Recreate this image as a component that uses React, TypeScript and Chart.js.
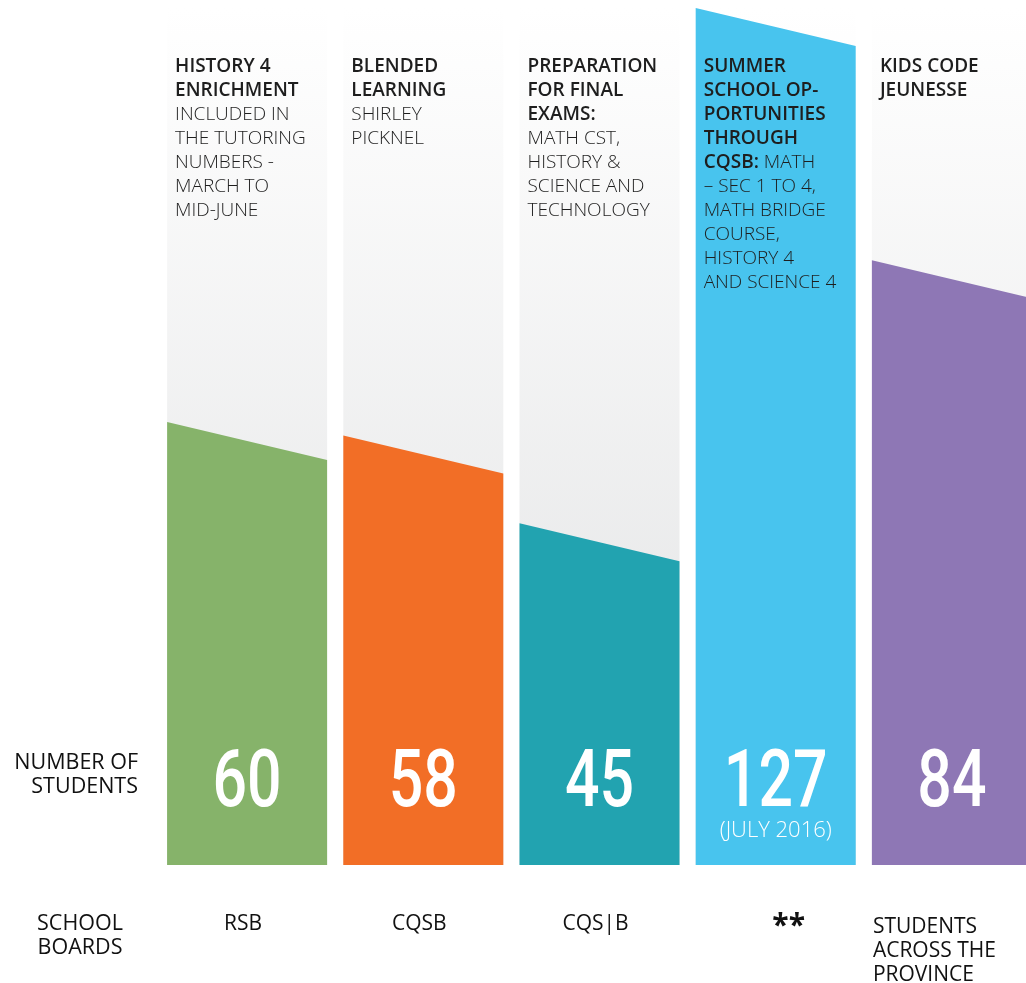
import React, { useEffect, useRef } from "react";
import { Chart, registerables } from "chart.js";

Chart.register(...registerables);

// ---- data ----
const programs = [
  "History 4 Enrichment",
  "Blended Learning",
  "Preparation for Final Exams",
  "Summer School Opportunities",
  "Kids Code Jeunesse",
];
const students = [60, 58, 45, 127, 84];
const studentNotes = ["", "", "", "(JULY 2016)", ""];
const boards: (string | string[])[] = [
  "RSB",
  "CQSB",
  "CQS|B",
  "**",
  ["STUDENTS", "ACROSS THE", "PROVINCE"],
];
// [..] marks bold text
const descriptions: string[][] = [
  ["[HISTORY 4]", "[ENRICHMENT]", "INCLUDED IN", "THE TUTORING", "NUMBERS -", "MARCH TO", "MID-JUNE"],
  ["[BLENDED]", "[LEARNING]", "SHIRLEY", "PICKNEL"],
  ["[PREPARATION]", "[FOR FINAL]", "[EXAMS:]", "MATH CST,", "HISTORY &", "SCIENCE AND", "TECHNOLOGY"],
  ["[SUMMER]", "[SCHOOL OP-]", "[PORTUNITIES]", "[THROUGH]", "[CQSB:] MATH", "– SEC 1 TO 4,", "MATH BRIDGE", "COURSE,", "HISTORY 4", "AND SCIENCE 4"],
  ["[KIDS CODE]", "[JEUNESSE]"],
];
const barColors = ["#86b36a", "#f26e26", "#22a3b0", "#48c4ee", "#8e77b5"];
const rowHeaderTop = ["NUMBER OF", "STUDENTS"];
const rowHeaderBottom = ["SCHOOL", "BOARDS"];

const SLANT = 38;
const TEXT_FONT = '"Open Sans", "Noto Sans", sans-serif';
const NUM_FONT = 'Roboto, "DejaVu Sans", sans-serif';

function parseLine(s: string) {
  const segs: { t: string; b: boolean }[] = [];
  const re = /\[([^\]]*)\]|([^\[]+)/g;
  let m: RegExpExecArray | null;
  while ((m = re.exec(s))) {
    if (m[1] !== undefined) segs.push({ t: m[1], b: true });
    else segs.push({ t: m[2], b: false });
  }
  return segs;
}

const infographic = {
  id: "infographic",
  beforeDatasetsDraw(chart: any) {
    const { ctx, chartArea } = chart;
    const meta = chart.getDatasetMeta(0);
    ctx.save();
    meta.data.forEach((el: any) => {
      const { x, width, base } = el.getProps(["x", "width", "base"], true);
      const g = ctx.createLinearGradient(0, chartArea.top, 0, base);
      g.addColorStop(0, "#ffffff");
      g.addColorStop(1, "#e0e1e2");
      ctx.fillStyle = g;
      ctx.fillRect(x - width / 2, chartArea.top, width, base - chartArea.top);
    });
    ctx.restore();
  },
  afterDatasetsDraw(chart: any) {
    const { ctx, chartArea } = chart;
    const meta = chart.getDatasetMeta(0);
    ctx.save();
    meta.data.forEach((el: any, i: number) => {
      const { x, y, width, base } = el.getProps(["x", "y", "width", "base"], true);
      let right = y;
      let left = right - SLANT;
      if (left < chartArea.top) {
        left = chartArea.top;
        right = left + SLANT;
      }
      const x0 = x - width / 2;
      const x1 = x + width / 2;
      ctx.fillStyle = barColors[i];
      ctx.beginPath();
      ctx.moveTo(x0, base);
      ctx.lineTo(x0, left);
      ctx.lineTo(x1, right);
      ctx.lineTo(x1, base);
      ctx.closePath();
      ctx.fill();

      // description text
      ctx.fillStyle = "#1e1e1e";
      ctx.textBaseline = "alphabetic";
      ctx.textAlign = "left";
      descriptions[i].forEach((line, li) => {
        let cx = x0 + 8;
        const ly = 71.5 + li * 24;
        parseLine(line).forEach((seg) => {
          ctx.font = (seg.b ? "600 " : "300 ") + "19px " + TEXT_FONT;
          ctx.fillText(seg.t, cx, ly);
          cx += ctx.measureText(seg.t).width;
        });
      });

      // value (condensed digits)
      ctx.fillStyle = "#ffffff";
      ctx.textAlign = "center";
      ctx.font = "500 80px " + NUM_FONT;
      ctx.save();
      ctx.translate(x, 806);
      ctx.scale(0.76, 1);
      ctx.fillText(String(students[i]), 0, 0);
      ctx.restore();
      if (studentNotes[i]) {
        ctx.font = "300 22px " + TEXT_FONT;
        ctx.fillText(studentNotes[i], x, 837);
      }

      // board labels
      ctx.fillStyle = "#111111";
      const b = boards[i];
      if (Array.isArray(b)) {
        ctx.textAlign = "left";
        ctx.font = "400 21px " + TEXT_FONT;
        b.forEach((t, li) => ctx.fillText(t, x0 + 1, 933 + li * 24));
      } else if (b === "**") {
        ctx.textAlign = "center";
        ctx.font = "bold 30px " + TEXT_FONT;
        ctx.fillText(b, x + 13, 935);
      } else {
        ctx.textAlign = "center";
        ctx.font = "400 21px " + TEXT_FONT;
        ctx.fillText(b, x - 4, 930);
      }
    });

    // row headers
    ctx.fillStyle = "#111111";
    ctx.font = "400 21.5px " + TEXT_FONT;
    ctx.textAlign = "right";
    rowHeaderTop.forEach((t, li) => ctx.fillText(t, chartArea.left - 21, 769 + li * 24));
    ctx.textAlign = "center";
    rowHeaderBottom.forEach((t, li) => ctx.fillText(t, chartArea.left - 79, 930 + li * 24));
    ctx.restore();
  },
};

export default function App() {
  const ref = useRef<HTMLCanvasElement | null>(null);
  useEffect(() => {
    if (!ref.current) return;
    const chart = new Chart(ref.current, {
      type: "bar",
      data: {
        labels: programs,
        datasets: [
          {
            data: students,
            backgroundColor: "rgba(0,0,0,0)",
            borderWidth: 0,
            barThickness: 160,
          },
        ],
      },
      options: {
        responsive: true,
        maintainAspectRatio: false,
        animation: false,
        layout: { padding: { left: 159, right: 0, top: 8, bottom: 118 } },
        plugins: { legend: { display: false }, tooltip: { enabled: false } },
        scales: {
          x: { display: false },
          y: { display: false, min: 0, max: 127 },
        },
      },
      plugins: [infographic],
    });
    return () => chart.destroy();
  }, []);
  return (
    <div
      style={{
        position: "absolute",
        left: 0,
        top: 0,
        width: 1026,
        height: 983,
        overflow: "hidden",
        background: "#ffffff",
      }}
    >
      <div style={{ position: "relative", width: 1040, height: 983 }}>
        <canvas ref={ref} />
      </div>
    </div>
  );
}
